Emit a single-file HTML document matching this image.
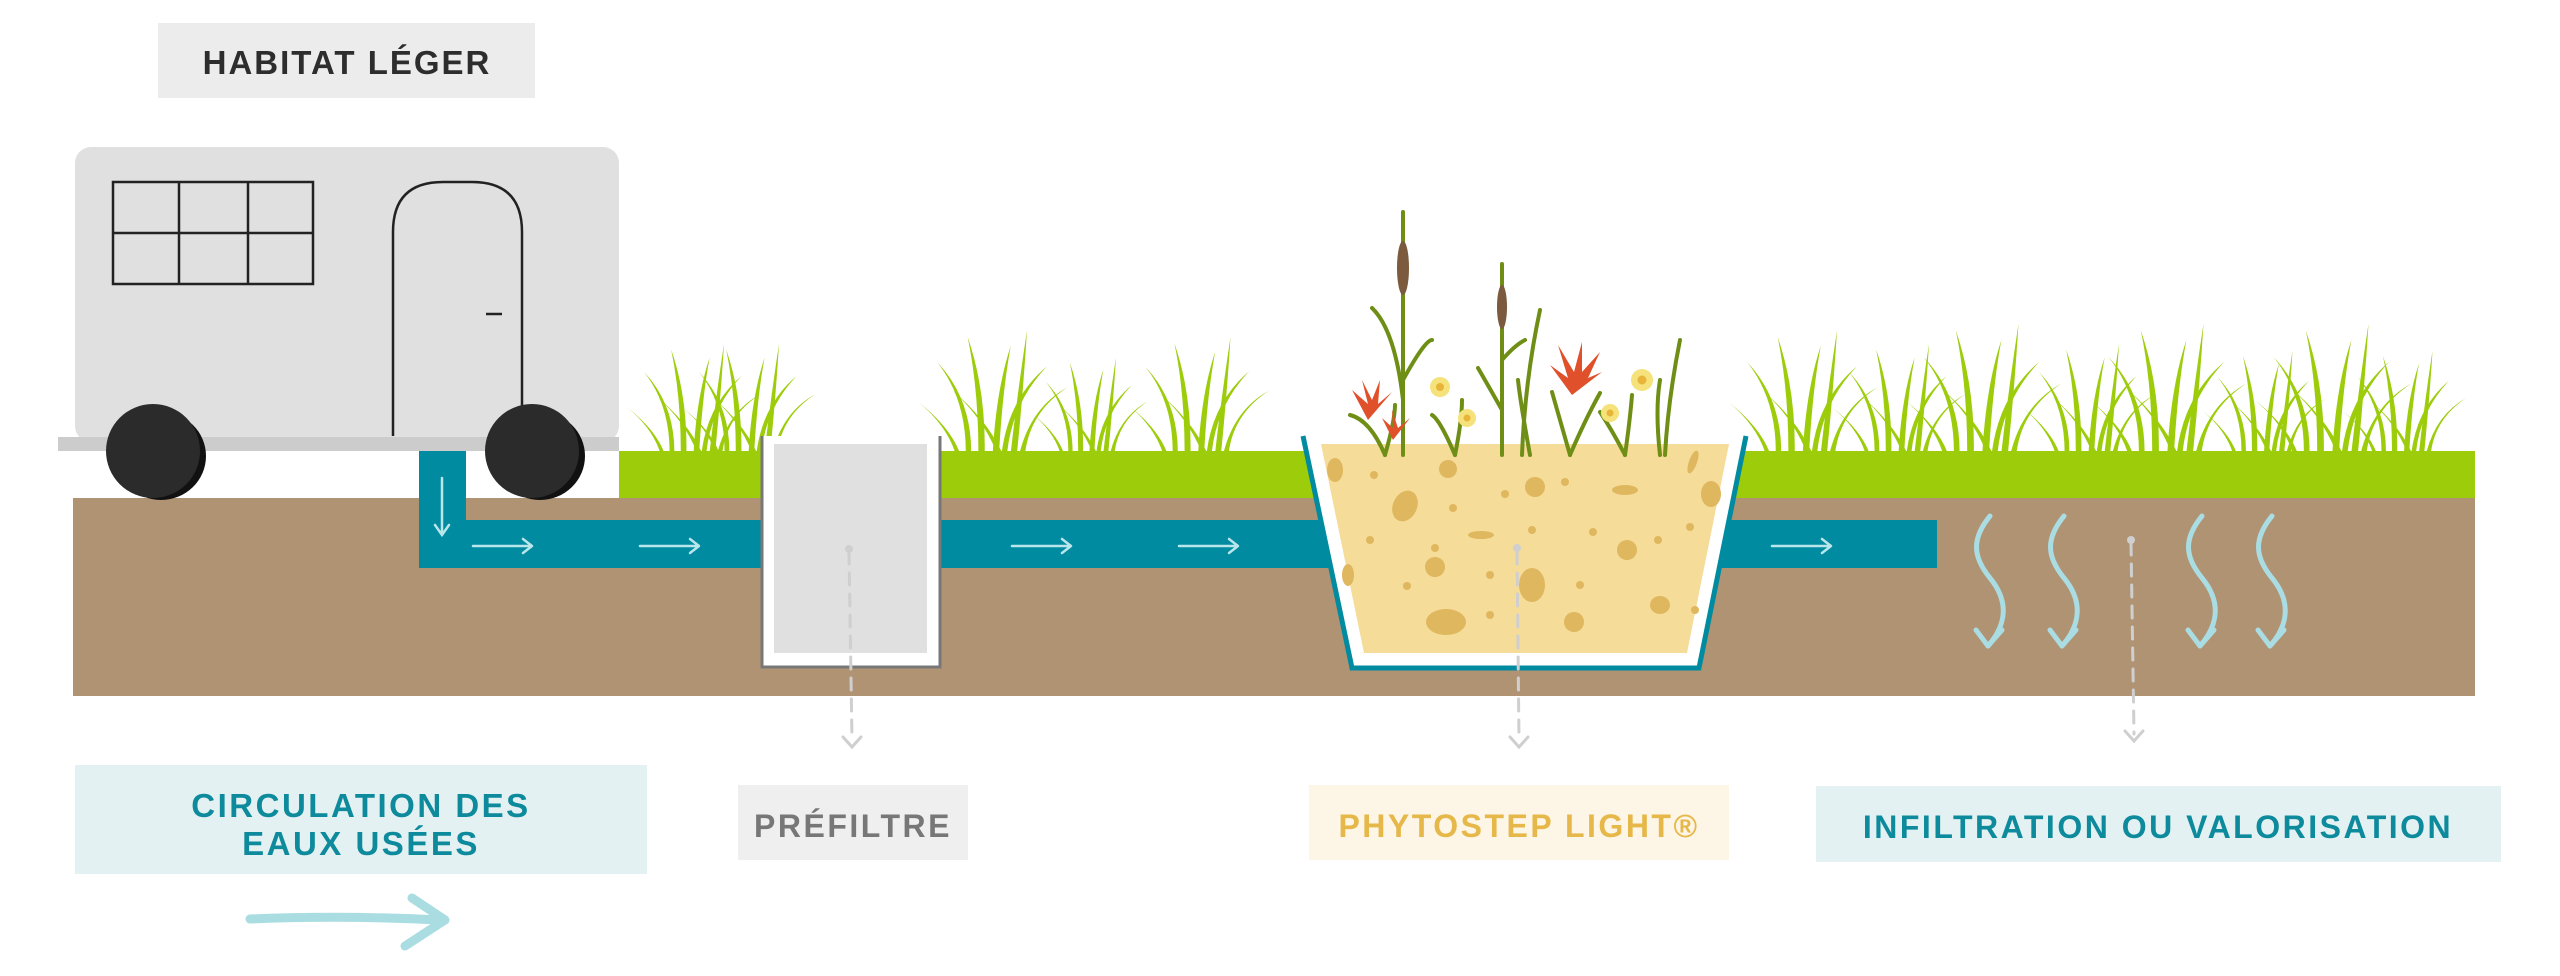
<!DOCTYPE html>
<html><head><meta charset="utf-8"><style>
html,body{margin:0;padding:0;background:#fff;}
svg{display:block;}
text{font-family:"Liberation Sans",sans-serif;font-weight:bold;}
</style></head><body>
<svg width="2560" height="976" viewBox="0 0 2560 976" xmlns="http://www.w3.org/2000/svg">
<defs>
<g id="clump">
<path d="M-50,0 Q-60,-30 -90,-55 Q-56,-28 -45,0Z"/>
<path d="M-38,0 Q-38,-60 -70,-100 Q-32,-60 -32,0Z"/>
<path d="M-24,0 Q-24,-70 -36,-128 Q-16,-70 -17,0Z"/>
<path d="M-8,0 Q-4,-70 12,-118 Q3,-70 -1,0Z"/>
<path d="M2,0 Q10,-60 52,-95 Q14,-55 8,0Z"/>
<path d="M12,0 Q20,-70 30,-135 Q26,-70 19,0Z"/>
<path d="M22,0 Q35,-50 75,-72 Q34,-45 28,0Z"/>
<path d="M-4,0 Q-20,-40 -55,-70 Q-16,-38 2,0Z"/>
</g>
<g id="wave"><path d="M0,0 c-18,22 -18,40 0,62 s18,45 -2,68" fill="none" stroke="#a9dde3" stroke-width="5" stroke-linecap="round"/><path d="M-14,114 L-2,130 L12,114" fill="none" stroke="#a9dde3" stroke-width="5" stroke-linecap="round" stroke-linejoin="round"/></g>
<g id="sarr"><path d="M0,0 L58,0 M50,-7 L59,0 L50,7" fill="none" stroke="#b9e6ea" stroke-width="2.5" stroke-linecap="round" stroke-linejoin="round"/></g>
</defs>

<rect x="158" y="23" width="377" height="75" fill="#ececec"/>
<text x="347" y="74" font-size="33" fill="#2d2d2d" text-anchor="middle" letter-spacing="2">HABITAT LÉGER</text>

<g fill="#9ccc0a">
<use href="#clump" transform="translate(700,452) scale(0.8)"/>
<use href="#clump" transform="translate(755,452) scale(0.8)"/>
<use href="#clump" transform="translate(1000,452) scale(0.9)"/>
<use href="#clump" transform="translate(1095,452) scale(0.7)"/>
<use href="#clump" transform="translate(1205,452) scale(0.85)"/>
<use href="#clump" transform="translate(1810,452) scale(0.9)"/>
<use href="#clump" transform="translate(1905,452) scale(0.8)"/>
<use href="#clump" transform="translate(1990,452) scale(0.95)"/>
<use href="#clump" transform="translate(2095,452) scale(0.8)"/>
<use href="#clump" transform="translate(2175,452) scale(0.95)"/>
<use href="#clump" transform="translate(2270,452) scale(0.75)"/>
<use href="#clump" transform="translate(2340,452) scale(0.95)"/>
<use href="#clump" transform="translate(2410,452) scale(0.75)"/>
</g>

<rect x="73" y="498" width="2402" height="198" fill="#b09373"/>
<rect x="619" y="451" width="1856" height="47" fill="#9ccc0a"/>

<rect x="419" y="451" width="47" height="117" fill="#008ba0"/>
<rect x="419" y="520" width="1518" height="48" fill="#008ba0"/>
<path d="M442,478 L442,534 M435,525 L442,535 L449,525" fill="none" stroke="#b9e6ea" stroke-width="2.5" stroke-linecap="round"/>
<use href="#sarr" transform="translate(473,546)"/>
<use href="#sarr" transform="translate(640,546)"/>
<use href="#sarr" transform="translate(1012,546)"/>
<use href="#sarr" transform="translate(1179,546)"/>
<use href="#sarr" transform="translate(1772,546)"/>

<rect x="75" y="147" width="544" height="295" rx="16" fill="#e0e0e0"/>
<rect x="58" y="437" width="561" height="14" fill="#cccccc"/>
<g fill="none" stroke="#222" stroke-width="2.5">
<rect x="113" y="182" width="200" height="102"/>
<line x1="113" y1="233" x2="313" y2="233"/>
<line x1="179" y1="182" x2="179" y2="284"/>
<line x1="248" y1="182" x2="248" y2="284"/>
<path d="M393,436 L393,232 Q393,182 443,182 L472,182 Q522,182 522,232 L522,436"/>
<line x1="486" y1="314" x2="502" y2="314"/>
</g>
<ellipse cx="161" cy="456" rx="45" ry="44" fill="#111"/>
<ellipse cx="153" cy="451" rx="47" ry="47" fill="#2b2b2b"/>
<ellipse cx="540" cy="456" rx="45" ry="44" fill="#111"/>
<ellipse cx="532" cy="451" rx="47" ry="47" fill="#2b2b2b"/>

<path d="M762,436 L762,667 L940,667 L940,436" fill="#fff" stroke="#777" stroke-width="3"/>
<rect x="774" y="444" width="153" height="209" fill="#e0e0e0"/>

<path d="M1303,436 L1352,668 L1699,668 L1746,436" fill="#fff" stroke="#008ba0" stroke-width="5"/>
<path d="M1321,444 L1364,653 L1687,653 L1729,444Z" fill="#f5dc98"/>
<g fill="#dfb75f">
<ellipse cx="1335" cy="470" rx="8" ry="12"/>
<ellipse cx="1405" cy="506" rx="12" ry="16" transform="rotate(25 1405 506)"/>
<ellipse cx="1448" cy="469" rx="9" ry="9"/>
<ellipse cx="1535" cy="487" rx="10" ry="10"/>
<ellipse cx="1625" cy="490" rx="13" ry="5"/>
<ellipse cx="1711" cy="494" rx="10" ry="13"/>
<ellipse cx="1693" cy="462" rx="4" ry="12" transform="rotate(20 1693 462)"/>
<ellipse cx="1481" cy="535" rx="13" ry="4"/>
<ellipse cx="1435" cy="567" rx="10" ry="10"/>
<ellipse cx="1532" cy="585" rx="13" ry="17"/>
<ellipse cx="1627" cy="550" rx="10" ry="10"/>
<ellipse cx="1660" cy="605" rx="10" ry="9"/>
<ellipse cx="1446" cy="622" rx="20" ry="13"/>
<ellipse cx="1574" cy="622" rx="10" ry="10"/>
<ellipse cx="1348" cy="575" rx="6" ry="11"/>
<circle cx="1374" cy="475" r="4"/><circle cx="1453" cy="508" r="4"/><circle cx="1505" cy="494" r="4"/>
<circle cx="1565" cy="482" r="4"/><circle cx="1532" cy="530" r="4"/><circle cx="1593" cy="532" r="4"/>
<circle cx="1690" cy="527" r="4"/><circle cx="1370" cy="540" r="4"/><circle cx="1435" cy="548" r="4"/>
<circle cx="1407" cy="586" r="4"/><circle cx="1490" cy="575" r="4"/><circle cx="1580" cy="585" r="4"/>
<circle cx="1490" cy="615" r="4"/><circle cx="1695" cy="610" r="4"/><circle cx="1658" cy="540" r="4"/>
</g>

<g stroke="#6f8e16" stroke-width="4" fill="none" stroke-linecap="round">
<path d="M1403,455 L1403,212"/>
<path d="M1502,455 L1502,264"/>
<path d="M1403,400 Q1395,330 1372,308"/>
<path d="M1403,380 Q1425,340 1432,340"/>
<path d="M1385,455 Q1370,420 1350,415"/>
<path d="M1385,455 Q1395,420 1395,405"/>
<path d="M1455,455 Q1440,420 1432,415"/>
<path d="M1455,455 Q1462,420 1462,400"/>
<path d="M1502,410 Q1485,380 1478,368"/>
<path d="M1502,360 Q1515,345 1525,340"/>
<path d="M1522,455 Q1525,380 1540,310"/>
<path d="M1530,455 Q1520,400 1518,380"/>
<path d="M1570,455 Q1560,420 1552,392"/>
<path d="M1570,455 Q1585,420 1600,393"/>
<path d="M1625,455 Q1612,430 1600,412"/>
<path d="M1625,455 Q1630,420 1632,395"/>
<path d="M1665,455 Q1668,400 1680,340"/>
<path d="M1660,455 Q1655,410 1660,380"/>
</g>
<g fill="#7b5a3d">
<ellipse cx="1403" cy="268" rx="6" ry="27"/>
<ellipse cx="1502" cy="307" rx="5" ry="22"/>
</g>
<g fill="#e0502a">
<path d="M1368,420 L1352,390 L1368,404 L1362,380 L1372,400 L1380,380 L1378,404 L1392,392 Z"/>
<path d="M1393,440 L1382,418 L1393,428 L1392,410 L1398,428 L1410,418 Z"/>
<path d="M1572,395 L1550,365 L1568,378 L1558,345 L1574,372 L1582,342 L1582,372 L1600,352 L1588,378 L1602,372 Z"/>
</g>
<g fill="#f5e27a">
<circle cx="1440" cy="387" r="10"/><circle cx="1467" cy="418" r="9"/>
<circle cx="1642" cy="380" r="11"/><circle cx="1610" cy="413" r="9"/>
</g>
<g fill="#e8b53a">
<circle cx="1440" cy="387" r="4"/><circle cx="1467" cy="418" r="3.5"/>
<circle cx="1642" cy="380" r="4.5"/><circle cx="1610" cy="413" r="3.5"/>
</g>

<use href="#wave" transform="translate(1990,516)"/>
<use href="#wave" transform="translate(2064,516)"/>
<use href="#wave" transform="translate(2202,516)"/>
<use href="#wave" transform="translate(2272,516)"/>

<g stroke="#cfcfcf" stroke-width="3" fill="none" stroke-linecap="round">
<path d="M849,552 L852,740" stroke-dasharray="12,9"/>
<path d="M843,737 L852,747 L861,737"/>
<path d="M1517,552 L1519,740" stroke-dasharray="12,9"/>
<path d="M1510,737 L1519,747 L1528,737"/>
<path d="M2131,543 L2134,734" stroke-dasharray="12,9"/>
<path d="M2125,731 L2134,741 L2143,731"/>
</g>
<g fill="#cfcfcf"><circle cx="849" cy="549" r="4"/><circle cx="1517" cy="548" r="4"/><circle cx="2131" cy="540" r="4"/></g>

<rect x="75" y="765" width="572" height="109" fill="#e3f1f2"/>
<text x="361" y="817" font-size="33" fill="#0d8a9c" text-anchor="middle" letter-spacing="2.5">CIRCULATION DES</text>
<text x="361" y="855" font-size="33" fill="#0d8a9c" text-anchor="middle" letter-spacing="2.5">EAUX USÉES</text>
<rect x="738" y="785" width="230" height="75" fill="#efefef"/>
<text x="853" y="837" font-size="32" fill="#777" text-anchor="middle" letter-spacing="2.5">PRÉFILTRE</text>
<rect x="1309" y="785" width="420" height="75" fill="#fdf5e5"/>
<text x="1519" y="837" font-size="32" fill="#e6b84a" text-anchor="middle" letter-spacing="2.5">PHYTOSTEP LIGHT®</text>
<rect x="1816" y="786" width="685" height="76" fill="#e3f1f2"/>
<text x="2158" y="838" font-size="32" fill="#0d8a9c" text-anchor="middle" letter-spacing="2.5">INFILTRATION OU VALORISATION</text>

<path d="M250,919 Q340,915 440,920 M412,898 L445,920 L405,946" fill="none" stroke="#aadde2" stroke-width="9" stroke-linecap="round" stroke-linejoin="round"/>
</svg>
</body></html>
